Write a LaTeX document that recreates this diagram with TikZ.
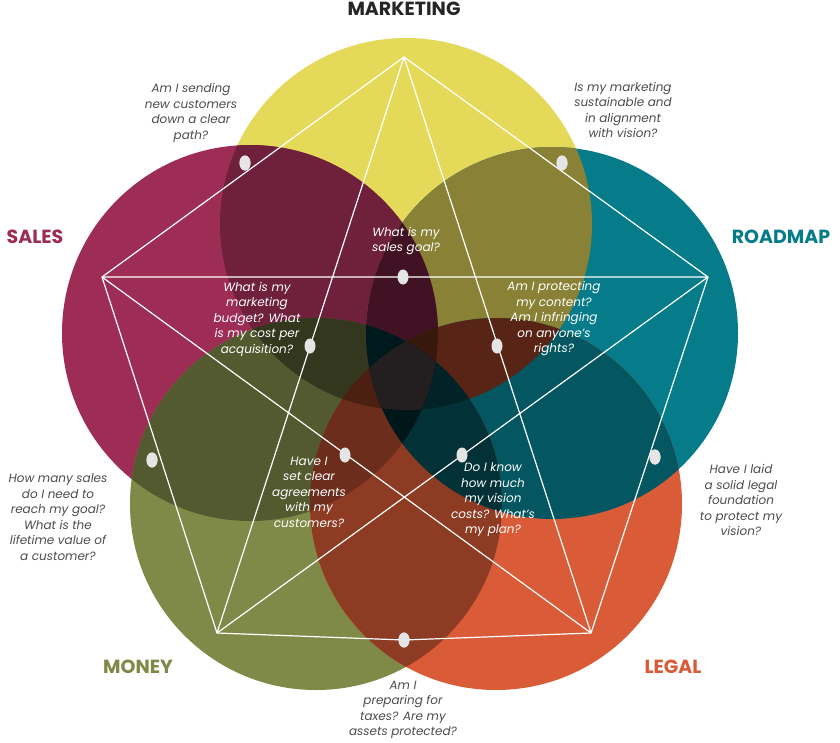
\documentclass[tikz,border=0pt]{standalone}
\usepackage{fontspec}
\usetikzlibrary{shapes.geometric}
\setmainfont{Poppins}
\begin{document}
\begin{tikzpicture}[x=1pt,y=-1pt,
  ln/.style={draw=white,line width=1.2pt},
  dot/.style={ellipse,fill=white!90!black,inner sep=0pt,minimum width=11pt,minimum height=15pt},
  ttl/.style={font=\bfseries\fontsize{19}{22}\selectfont,text=#1},
  qw/.style={font=\itshape\fontsize{12}{15.5}\selectfont,text=white,align=center},
  qg/.style={font=\itshape\fontsize{12}{15.5}\selectfont,text=black!70,align=center}]
\definecolor{cmk}{HTML}{E5D95A}
\definecolor{csl}{HTML}{9E2D55}
\definecolor{crm}{HTML}{067C8A}
\definecolor{cmn}{HTML}{808A48}
\definecolor{clg}{HTML}{DA5B37}
\definecolor{ccen}{HTML}{231F20}
\useasboundingbox (0,0) rectangle (840,742);
\fill[white] (0,0) rectangle (840,742);
\def\Cy{(406,224) circle (186)}
\def\Cs{(250,333) circle (188)}
\def\Cr{(552,333) circle (186)}
\def\Cn{(316,504) circle (186)}
\def\Cl{(496,504) circle (186)}
\fill[cmk] \Cy; \fill[csl] \Cs; \fill[crm] \Cr; \fill[cmn] \Cn; \fill[clg] \Cl;
% pairwise overlaps
\begin{scope}\clip \Cy; \fill[csl!70!black] \Cs; \end{scope}
\begin{scope}\clip \Cy; \fill[cmk!60!black] \Cr; \end{scope}
\begin{scope}\clip \Cs; \fill[csl!55!black] \Cr; \end{scope}
\begin{scope}\clip \Cs; \fill[cmn!65!black] \Cn; \end{scope}
\begin{scope}\clip \Cr; \fill[crm!70!black] \Cl; \end{scope}
\begin{scope}\clip \Cn; \fill[clg!65!black] \Cl; \end{scope}
\begin{scope}\clip \Cy; \fill[cmn!40!black] \Cn; \end{scope}
\begin{scope}\clip \Cy; \fill[clg!40!black] \Cl; \end{scope}
\begin{scope}\clip \Cs; \fill[clg!50!black] \Cl; \end{scope}
\begin{scope}\clip \Cr; \fill[crm!40!black] \Cn; \end{scope}
% triple overlaps
\begin{scope}\clip \Cy; \clip \Cs; \fill[black,opacity=0.25] \Cr; \end{scope}
\begin{scope}\clip \Cn; \clip \Cl; \fill[black,opacity=0.3] \Cy; \end{scope}
\begin{scope}\clip \Cs; \clip \Cn; \fill[black,opacity=0.3] \Cr; \end{scope}
\begin{scope}\clip \Cr; \clip \Cl; \fill[black,opacity=0.3] \Cs; \end{scope}
\begin{scope}\clip \Cy; \clip \Cs; \clip \Cr; \clip \Cn; \fill[ccen] \Cl; \end{scope}
\coordinate (T) at (404,57);
\coordinate (L) at (102,277);
\coordinate (R) at (708,277);
\coordinate (BL) at (217,633);
\coordinate (BR) at (591,633);
\node[dot] (d1) at (245,163) {};
\node[dot] (d2) at (562,163) {};
\node[dot] (d3) at (152,460) {};
\node[dot] (d4) at (655,457) {};
\node[dot] (d5) at (404,640) {};
\draw[ln] (T) -- (L) -- (BL) -- (d5.center) -- (BR) -- (R) -- cycle;
\draw[ln] (T) -- (BL) (T) -- (BR) (L) -- (R) (L) -- (BR) (R) -- (BL);
\node[dot] (i1) at (403,277) {};
\node[dot] (i2) at (310,346) {};
\node[dot] (i3) at (497,346) {};
\node[dot] (i4) at (345,455) {};
\node[dot] (i5) at (462,455) {};
\foreach \n in {d1,d2,d3,d4,d5} \node[dot] at (\n) {};
\node[ttl=black!85] (tm) at (404,9) {MARKETING};
\node[ttl=csl] (ts) at (35,237) {SALES};
\node[ttl=crm] (tr) at (781,237) {ROADMAP};
\node[ttl=cmn] (tn) at (138,667) {MONEY};
\node[ttl=clg] (tl) at (673,667) {LEGAL};
\node[qg] (q1) at (191,113) {Am I sending\\new customers\\down a clear\\path?};
\node[qg] (q2) at (623,110) {Is my marketing\\sustainable and\\in alignment\\with vision?};
\node[qw] (q3) at (406,241) {What is my\\sales goal?};
\node[qw] (q4) at (257,319) {What is my\\marketing\\budget? What\\is my cost per\\acquisition?};
\node[qw] (q5) at (554,319) {Am I protecting\\my content?\\Am I infringing\\on anyone's\\rights?};
\node[qw] (q6) at (309,492) {Have I\\set clear\\agreements\\with my\\customers?};
\node[qw] (q7) at (493,500) {Do I know\\how much\\my vision\\costs? What's\\my plan?};
\node[qg] (q8) at (58,517) {How many sales\\do I need to\\reach my goal?\\What is the\\lifetime value of\\a customer?};
\node[qg] (q9) at (741,500) {Have I laid\\a solid legal\\foundation\\to protect my\\vision?};
\node[qg] (q10) at (403,710) {Am I\\preparing for\\taxes? Are my\\assets protected?};
\end{tikzpicture}
\end{document}
